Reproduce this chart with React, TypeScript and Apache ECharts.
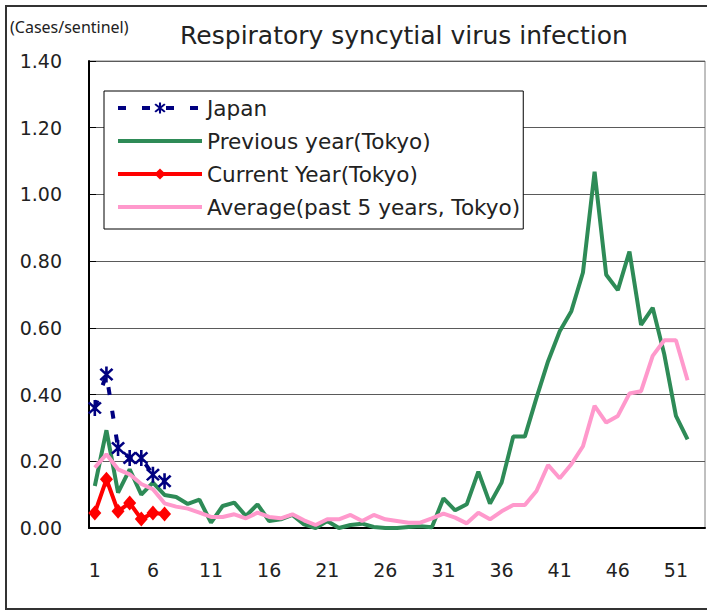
import React, { useEffect, useRef } from "react";
import * as echarts from "echarts";

const weeks: string[] = Array.from({ length: 53 }, (_, i) => String(i + 1));

const japan: number[] = [0.36, 0.46, 0.24, 0.21, 0.21, 0.16, 0.14];

const currentYear: number[] = [0.045, 0.146, 0.05, 0.075, 0.027, 0.045, 0.042];

const previousYear: number[] = [
  0.126, 0.293, 0.106, 0.176, 0.1, 0.136, 0.099, 0.093, 0.072, 0.085,
  0.016, 0.066, 0.076, 0.036, 0.071, 0.021, 0.026, 0.039, 0.011, 0.0,
  0.021, 0.0, 0.009, 0.013, 0.003, 0.0, 0.0, 0.003, 0.005, 0.002,
  0.089, 0.053, 0.071, 0.169, 0.073, 0.136, 0.274, 0.274, 0.39, 0.5,
  0.59, 0.65, 0.766, 1.068, 0.759, 0.713, 0.829, 0.609, 0.66, 0.52,
  0.336, 0.266,
];

const average5y: number[] = [
  0.181, 0.221, 0.176, 0.161, 0.132, 0.116, 0.074, 0.064, 0.058, 0.046,
  0.033, 0.033, 0.041, 0.029, 0.046, 0.033, 0.029, 0.041, 0.023, 0.009,
  0.026, 0.026, 0.039, 0.021, 0.039, 0.026, 0.021, 0.016, 0.016, 0.029,
  0.043, 0.031, 0.014, 0.046, 0.026, 0.05, 0.069, 0.069, 0.111, 0.189,
  0.149, 0.191, 0.245, 0.366, 0.316, 0.336, 0.403, 0.41, 0.516, 0.563,
  0.563, 0.443,
];

const seriesNames: string[] = [
  "Japan",
  "Previous year(Tokyo)",
  "Current Year(Tokyo)",
  "Average(past 5 years, Tokyo)",
];

const FONT = "DejaVu Sans";
const ASTERISK =
  "path://M8.5 0 L11.5 0 L11.5 20 L8.5 20 Z M4.06 1.94 L18.06 15.94 L15.94 18.06 L1.94 4.06 Z M18.06 4.06 L4.06 18.06 L1.94 15.94 L15.94 1.94 Z";

export default function App() {
  const ref = useRef<HTMLDivElement>(null);
  useEffect(() => {
    if (!ref.current) return;
    const chart = echarts.init(ref.current, undefined, { renderer: "svg" });
    chart.setOption({
      animation: false,
      backgroundColor: "#fff",
      textStyle: { fontFamily: FONT },
      graphic: [
        {
          type: "rect",
          shape: { x: 6, y: 6, width: 712, height: 603 },
          style: { fill: "none", stroke: "#333", lineWidth: 2 },
          silent: true,
        },
        {
          type: "text",
          x: 404,
          y: 35,
          style: {
            text: "Respiratory syncytial virus infection",
            fontFamily: FONT,
            fontSize: 25,
            fill: "#222",
            textAlign: "center",
            textVerticalAlign: "middle",
          },
        },
        {
          type: "text",
          x: 10,
          y: 27,
          style: {
            text: "(Cases/sentinel)",
            fontFamily: "Noto Sans",
            fontSize: 16,
            fill: "#222",
            textAlign: "left",
            textVerticalAlign: "middle",
          },
        },
      ],
      legend: {
        orient: "vertical",
        left: 104,
        top: 91,
        data: [
          { name: seriesNames[0] },
          { name: seriesNames[1], itemStyle: { opacity: 0 } },
          { name: seriesNames[2] },
          { name: seriesNames[3], itemStyle: { opacity: 0 } },
        ],
        itemWidth: 84,
        itemHeight: 14,
        itemGap: 9,
        padding: [5, 3, 10, 12],
        backgroundColor: "#fff",
        borderColor: "#000",
        borderWidth: 1,
        borderRadius: 0,
        lineStyle: { width: 4 },
        textStyle: { fontFamily: FONT, fontSize: 21.6, color: "#222", lineHeight: 24 },
      },
      grid: {
        left: 89,
        right: 2,
        top: 61,
        bottom: 84,
        show: true,
        borderColor: "#808080",
        borderWidth: 1,
        backgroundColor: "transparent",
      },
      xAxis: {
        type: "category",
        data: weeks,
        boundaryGap: true,
        axisLine: { lineStyle: { color: "#000", width: 2 } },
        axisTick: { inside: true, length: 7, interval: 4, lineStyle: { color: "#000" } },
        axisLabel: {
          interval: 4,
          margin: 32,
          fontFamily: FONT,
          fontSize: 19,
          color: "#222",
        },
        splitLine: { show: false },
      },
      yAxis: {
        type: "value",
        min: 0,
        max: 1.4,
        interval: 0.2,
        axisLine: { show: true, lineStyle: { color: "#000", width: 2 } },
        axisTick: { show: true, inside: true, length: 7, lineStyle: { color: "#000" } },
        axisLabel: {
          margin: 27,
          fontFamily: FONT,
          fontSize: 19,
          color: "#222",
          formatter: (v: number) => v.toFixed(2),
        },
        splitLine: { show: true, lineStyle: { color: "#5a5a5a", width: 1 } },
      },
      series: [
        {
          name: seriesNames[0],
          type: "line",
          data: japan,
          z: 5,
          symbol: ASTERISK,
          symbolSize: [14, 16],
          showAllSymbol: true,
          itemStyle: { color: "#000080" },
          lineStyle: { color: "#000080", width: 4, type: [8, 16] },
        },
        {
          name: seriesNames[1],
          type: "line",
          data: previousYear,
          z: 2,
          symbol: "none",
          itemStyle: { color: "#2E8B57" },
          lineStyle: { color: "#2E8B57", width: 4 },
        },
        {
          name: seriesNames[2],
          type: "line",
          data: currentYear,
          z: 4,
          symbol: "diamond",
          symbolSize: [13, 15],
          showAllSymbol: true,
          itemStyle: { color: "#FF0000" },
          lineStyle: { color: "#FF0000", width: 4 },
        },
        {
          name: seriesNames[3],
          type: "line",
          data: average5y,
          z: 3,
          symbol: "none",
          itemStyle: { color: "#FF99CC" },
          lineStyle: { color: "#FF99CC", width: 4 },
        },
      ],
    });
    return () => chart.dispose();
  }, []);
  return (
    <div
      ref={ref}
      style={{ position: "fixed", left: 0, top: 0, width: 707, height: 612 }}
    />
  );
}
